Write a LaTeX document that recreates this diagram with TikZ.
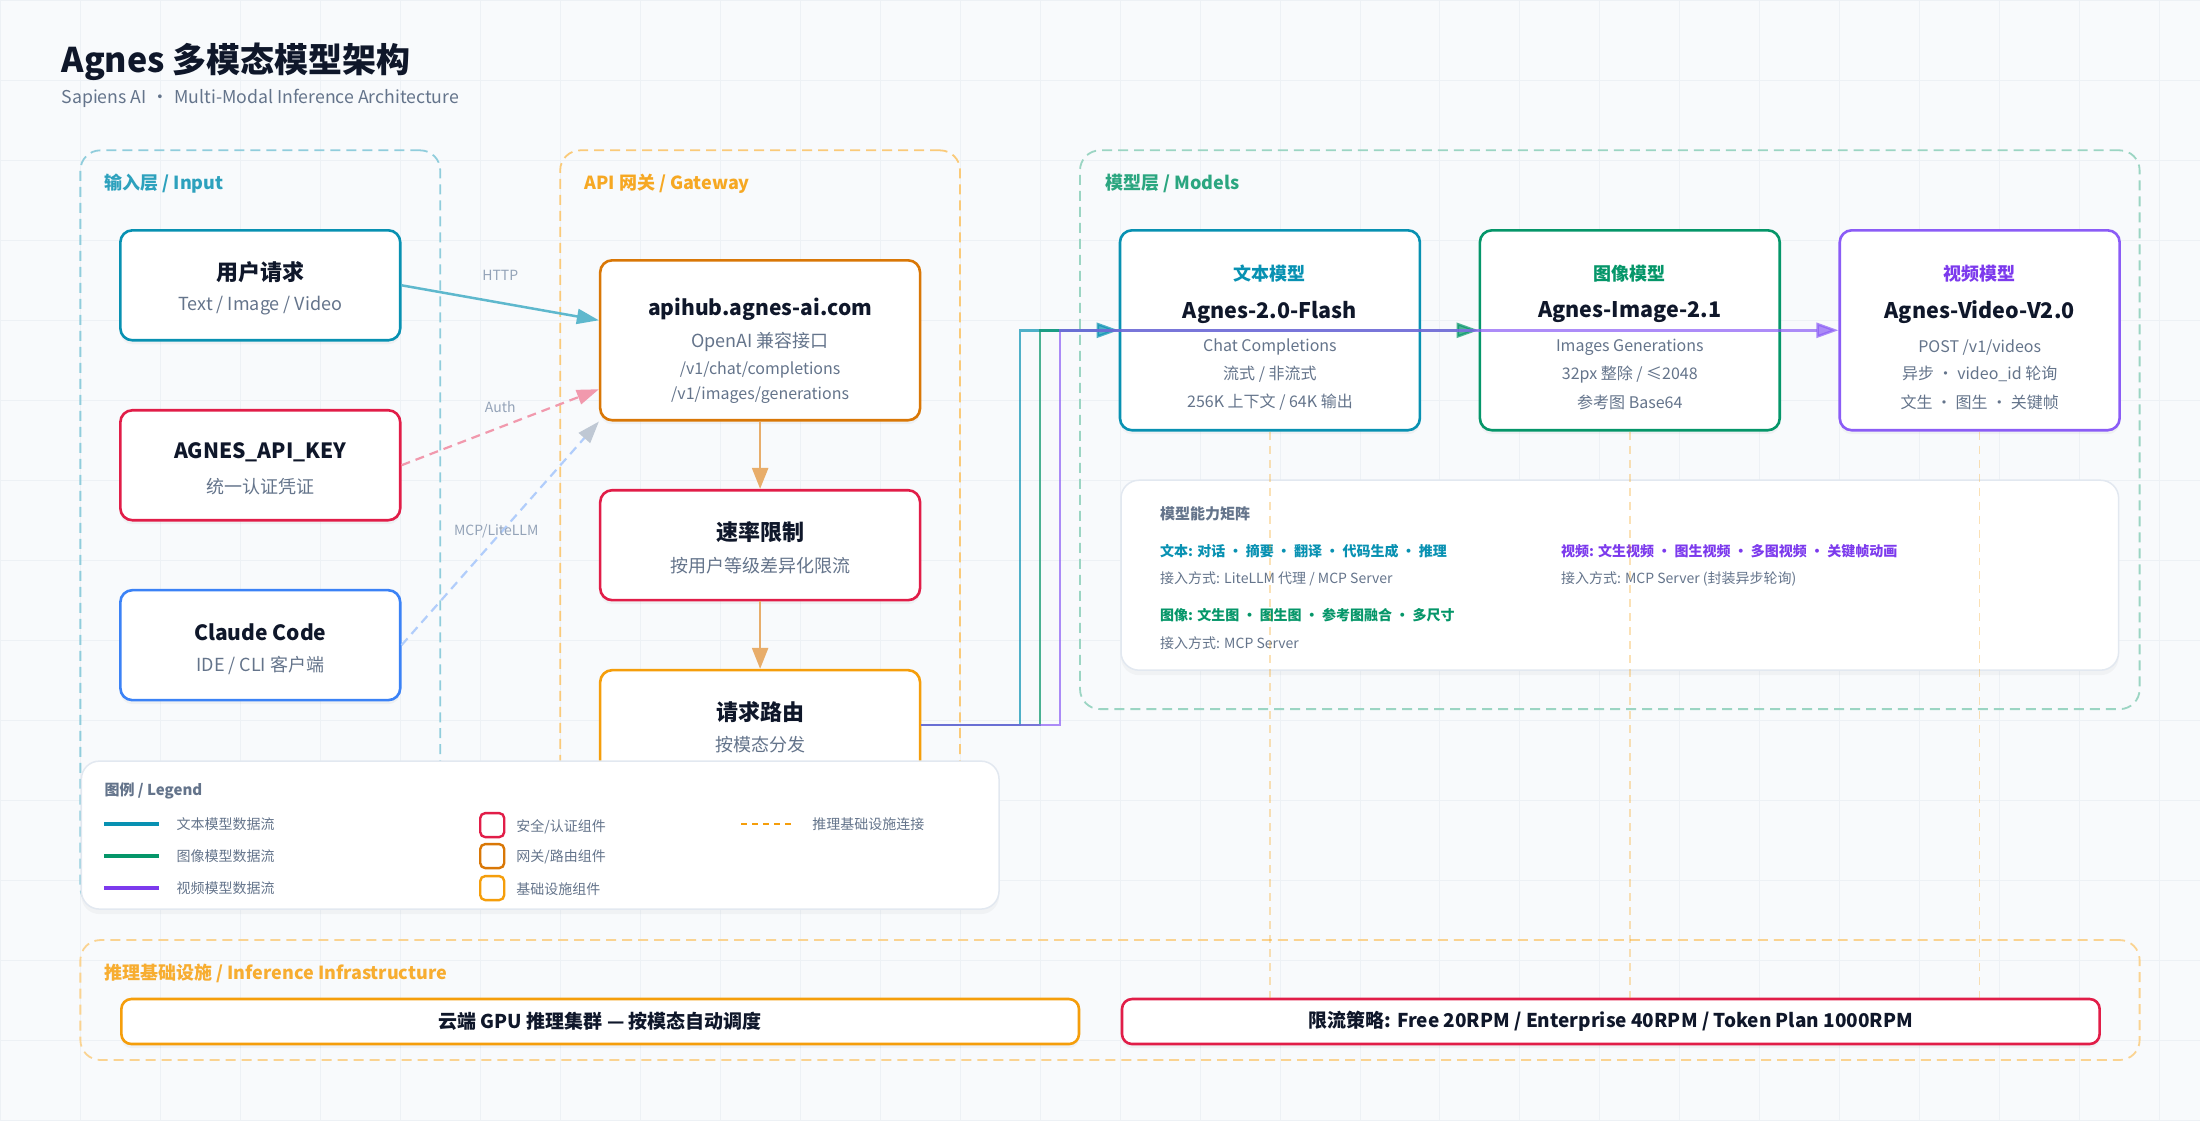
\documentclass[tikz,border=0pt]{standalone}
\usepackage{fontspec}
\setmainfont{Noto Sans CJK SC}
\usetikzlibrary{arrows.meta, positioning, shadows}

\definecolor{bgcol}{HTML}{F8FAFC}
\definecolor{gridcol}{HTML}{EDF1F5}
\definecolor{inkdark}{HTML}{0F172A}
\definecolor{inkgray}{HTML}{64748B}
\definecolor{inklight}{HTML}{94A3B8}
\definecolor{textcyan}{HTML}{0891B2}
\definecolor{imggreen}{HTML}{059669}
\definecolor{vidpurple}{HTML}{8B5CF6}
\definecolor{viddark}{HTML}{7C3AED}
\definecolor{crimson}{HTML}{E11D48}
\definecolor{gateorange}{HTML}{D97706}
\definecolor{infraamber}{HTML}{F59E0B}
\definecolor{clientblue}{HTML}{3B82F6}
\definecolor{matborder}{HTML}{E2E8F0}

\begin{document}
\begin{tikzpicture}[x=1pt, y=-1pt,
    compbox/.style={draw=#1, line width=2.6pt, rounded corners=12pt, fill=white,
        drop shadow={opacity=0.07, shadow xshift=0pt, shadow yshift=-4pt}},
    layerbox/.style={draw=#1, line width=1.8pt, dash pattern=on 10pt off 6pt, rounded corners=20pt},
    layertitle/.style={anchor=west, inner sep=0, text=#1, font=\fontsize{18}{22}\selectfont\bfseries},
    boxtitle/.style={inner sep=0, text=inkdark, font=\fontsize{22}{26}\selectfont\bfseries},
    latintitle/.style={inner sep=0, text=inkdark, font=\fontsize{21}{25}\selectfont\bfseries},
    boxsub/.style={inner sep=0, text=inkgray, font=\fontsize{18}{22}\selectfont},
    boxpath/.style={inner sep=0, text=inkgray, font=\fontsize{16}{20}\selectfont},
    edgelabel/.style={inner sep=0, text=inklight, font=\fontsize{14}{17}\selectfont},
    modelcat/.style={inner sep=0, text=#1, font=\fontsize{18}{22}\selectfont\bfseries},
    modelname/.style={inner sep=0, text=inkdark, font=\fontsize{21.5}{26}\selectfont\bfseries},
    modelline/.style={inner sep=0, text=inkgray, font=\fontsize{16}{20}\selectfont},
    cardbox/.style={draw=matborder, line width=1.5pt, rounded corners=18pt, fill=white,
        drop shadow={opacity=0.06, shadow xshift=0pt, shadow yshift=-5pt}},
    cardhead/.style={anchor=west, inner sep=0, text=inkgray, font=\fontsize{15}{18}\selectfont\bfseries},
    cardtag/.style={anchor=west, inner sep=0, text=#1, font=\fontsize{14}{17}\selectfont\bfseries},
    cardtext/.style={anchor=west, inner sep=0, text=inkgray, font=\fontsize{14}{17}\selectfont},
    keybox/.style={draw=#1, line width=2.4pt, rounded corners=5pt, fill=white, minimum size=24pt, inner sep=0},
    infrabar/.style={inner sep=0, text=inkdark, font=\fontsize{19}{23}\selectfont\bfseries},
    flow/.style={draw=#1, line width=2.5pt, opacity=0.7, -{Triangle[length=22pt, width=15pt]}},
    infraline/.style={draw=infraamber, opacity=0.3, line width=1.5pt, dash pattern=on 8pt off 6pt}
]
    % Background and grid
    \fill[bgcol] (0,0) rectangle (2200,1120);
    \draw[gridcol, line width=0.8pt, step=80pt] (0,0) grid (2200,1120);
    \useasboundingbox (0,0) rectangle (2200,1120);

    % Title
    \node[anchor=west, inner sep=0, text=inkdark, font=\fontsize{34}{40}\selectfont\bfseries] (title) at (61,61) {Agnes 多模态模型架构};
    \node[anchor=west, inner sep=0, text=inkgray, font=\fontsize{17.7}{22}\selectfont] (subtitle) at (61,98) {Sapiens AI\hspace{5pt}·\hspace{5pt}Multi-Modal Inference Architecture};

    % Layers
    \node[layerbox=textcyan!45, minimum width=360pt, minimum height=757pt] (inputlayer) at (260,528.5) {};
    \node[layerbox=infraamber!55, minimum width=400pt, minimum height=757pt] (gatelayer) at (760,528.5) {};
    \node[layerbox=imggreen!40, minimum width=1060pt, minimum height=559pt] (modellayer) at (1610,429.5) {};
    \node[layerbox=infraamber!45, minimum width=2060pt, minimum height=120pt] (infralayer) at (1110,1000) {};
    \node[layertitle=textcyan!85] (inputlabel) at (104,183) {输入层 / Input};
    \node[layertitle=infraamber!90] (gatelabel) at (584,183) {API 网关 / Gateway};
    \node[layertitle=imggreen!85] (modellabel) at (1105,183) {模型层 / Models};
    \node[layertitle=infraamber!85] (infralabel) at (104,973) {推理基础设施 / Inference Infrastructure};

    % Input layer
    \node[compbox=textcyan, minimum width=280pt, minimum height=110pt] (user) at (260,285) {};
    \node[boxtitle] (user-t) at (260,272) {用户请求};
    \node[boxsub] (user-s) at (260,305) {Text / Image / Video};
    \node[compbox=crimson, minimum width=280pt, minimum height=110pt] (apikey) at (260,465) {};
    \node[latintitle] (apikey-t) at (260,452) {AGNES\_API\_KEY};
    \node[boxsub] (apikey-s) at (260,486) {统一认证凭证};
    \node[compbox=clientblue, minimum width=280pt, minimum height=110pt] (claude) at (260,645) {};
    \node[latintitle] (claude-t) at (260,632) {Claude Code};
    \node[boxsub] (claude-s) at (260,665) {IDE / CLI 客户端};

    % Gateway layer
    \node[compbox=gateorange, minimum width=320pt, minimum height=160pt] (api) at (760,340) {};
    \node[latintitle] (api-t) at (760,309) {apihub.agnes-ai.com};
    \node[boxsub] (api-s) at (760,342) {OpenAI 兼容接口};
    \node[boxpath] (api-p1) at (760,370) {/v1/chat/completions};
    \node[boxpath] (api-p2) at (760,395) {/v1/images/generations};
    \node[compbox=crimson, minimum width=320pt, minimum height=110pt] (rate) at (760,545) {};
    \node[boxtitle] (rate-t) at (760,532) {速率限制};
    \node[boxsub] (rate-s) at (760,565) {按用户等级差异化限流};
    \node[compbox=infraamber, minimum width=320pt, minimum height=110pt] (route) at (760,725) {};
    \node[boxtitle] (route-t) at (760,712) {请求路由};
    \node[boxsub] (route-s) at (760,745) {按模态分发};

    % Client connectors
    \draw[textcyan!65, line width=2.5pt, -{Triangle[length=22pt, width=15pt]}] (user.east) -- ([yshift=20pt]api.west);
    \draw[crimson!45, line width=2.2pt, dash pattern=on 9pt off 6pt, -{Triangle[length=22pt, width=15pt]}] (apikey.east) -- ([yshift=-49pt]api.west);
    \draw[clientblue!40, line width=2.2pt, dash pattern=on 9pt off 6pt, -{Triangle[length=22pt, width=15pt, color=inklight!60]}] (claude.east) -- (api.south west);
    \node[edgelabel] (http-l) at (500,275) {HTTP};
    \node[edgelabel] (auth-l) at (500,407) {Auth};
    \node[edgelabel] (mcp-l) at (496,531) {MCP/LiteLLM};

    % Gateway pipeline
    \draw[gateorange!60, line width=2.5pt, -{Triangle[length=21pt, width=16pt]}] (api.south) -- (rate.north);
    \draw[gateorange!60, line width=2.5pt, -{Triangle[length=21pt, width=16pt]}] (rate.south) -- (route.north);

    % Model layer
    \node[compbox=textcyan, minimum width=300pt, minimum height=200pt] (txt) at (1270,330) {};
    \node[modelcat=textcyan] (txt-c) at (1270,273) {文本模型};
    \node[modelname] (txt-n) at (1270,312) {Agnes-2.0-Flash};
    \node[modelline] (txt-l1) at (1270,347) {Chat Completions};
    \node[modelline] (txt-l2) at (1270,374) {流式 / 非流式};
    \node[modelline] (txt-l3) at (1270,402) {256K 上下文 / 64K 输出};
    \node[compbox=imggreen, minimum width=300pt, minimum height=200pt] (img) at (1630,330) {};
    \node[modelcat=imggreen] (img-c) at (1630,273) {图像模型};
    \node[modelname] (img-n) at (1630,312) {Agnes-Image-2.1};
    \node[modelline] (img-l1) at (1630,347) {Images Generations};
    \node[modelline] (img-l2) at (1630,374) {32px 整除 / ≤2048};
    \node[modelline] (img-l3) at (1630,402) {参考图 Base64};
    \node[compbox=vidpurple, minimum width=280pt, minimum height=200pt] (vid) at (1980,330) {};
    \node[modelcat=viddark] (vid-c) at (1980,273) {视频模型};
    \node[modelname] (vid-n) at (1980,312) {Agnes-Video-V2.0};
    \node[modelline] (vid-l1) at (1980,347) {POST /v1/videos};
    \node[modelline] (vid-l2) at (1980,374) {异步~·~video\_id 轮询};
    \node[modelline] (vid-l3) at (1980,402) {文生~·~图生~·~关键帧};

    % Capability matrix
    \node[cardbox, minimum width=998pt, minimum height=190pt] (matrix) at (1620,575) {};
    \node[cardhead] (mat-h) at (1160,514) {模型能力矩阵};
    \node[cardtag=textcyan] (mat-txt) at (1160,551) {文本: 对话 · 摘要 · 翻译 · 代码生成 · 推理};
    \node[cardtext] (mat-txt2) at (1160,579) {接入方式: LiteLLM 代理 / MCP Server};
    \node[cardtag=imggreen] (mat-img) at (1160,615) {图像: 文生图 · 图生图 · 参考图融合 · 多尺寸};
    \node[cardtext] (mat-img2) at (1160,643) {接入方式: MCP Server};
    \node[cardtag=viddark] (mat-vid) at (1561,551) {视频: 文生视频 · 图生视频 · 多图视频 · 关键帧动画};
    \node[cardtext] (mat-vid2) at (1561,579) {接入方式: MCP Server (封装异步轮询)};

    % Infrastructure
    \node[compbox=infraamber, minimum width=958pt, minimum height=45pt, rounded corners=10pt] (gpu) at (600,1021.5) {};
    \node[infrabar] (gpu-t) at (600,1021.5) {云端 GPU 推理集群 — 按模态自动调度};
    \node[compbox=crimson, minimum width=978pt, minimum height=45pt, rounded corners=10pt] (limit) at (1611,1021.5) {};
    \node[infrabar] (limit-t) at (1611,1021.5) {限流策略: Free 20RPM / Enterprise 40RPM / Token Plan 1000RPM};

    % Infrastructure links
    \draw[infraline] (txt.south) -- (txt.south |- limit.north);
    \draw[infraline] (img.south) -- (img.south |- limit.north);
    \draw[infraline] (vid.south) -- (vid.south |- limit.north);

    % Routing to models
    \draw[flow=textcyan] (route.east) -| (1020,330) -- (txt.west);
    \draw[flow=imggreen] (route.east) -| (1040,330) -- (img.west);
    \draw[flow=vidpurple] (route.east) -| (1060,330) -- (vid.west);

    % Legend
    \node[cardbox, minimum width=918pt, minimum height=148pt] (legend) at (540,835) {};
    \node[cardhead] (leg-h) at (104,791) {图例 / Legend};
    \draw[textcyan, line width=3.5pt] (104,824) -- (159,824);
    \draw[imggreen, line width=3.5pt] (104,856) -- (159,856);
    \draw[viddark, line width=3.5pt] (104,888) -- (159,888);
    \node[cardtext] (leg-txt) at (176,824) {文本模型数据流};
    \node[cardtext] (leg-img) at (176,856) {图像模型数据流};
    \node[cardtext] (leg-vid) at (176,888) {视频模型数据流};
    \node[keybox=crimson] (key-sec) at (492,825) {};
    \node[keybox=gateorange] (key-gate) at (492,856) {};
    \node[keybox=infraamber] (key-infra) at (492,888) {};
    \node[cardtext] (leg-sec) at (516,827) {安全/认证组件};
    \node[cardtext] (leg-gate) at (516,857) {网关/路由组件};
    \node[cardtext] (leg-infra) at (516,889) {基础设施组件};
    \draw[infraamber, line width=2.5pt, dash pattern=on 6pt off 5pt] (741,824) -- (795,824);
    \node[cardtext] (leg-link) at (812,824) {推理基础设施连接};
\end{tikzpicture}
\end{document}
